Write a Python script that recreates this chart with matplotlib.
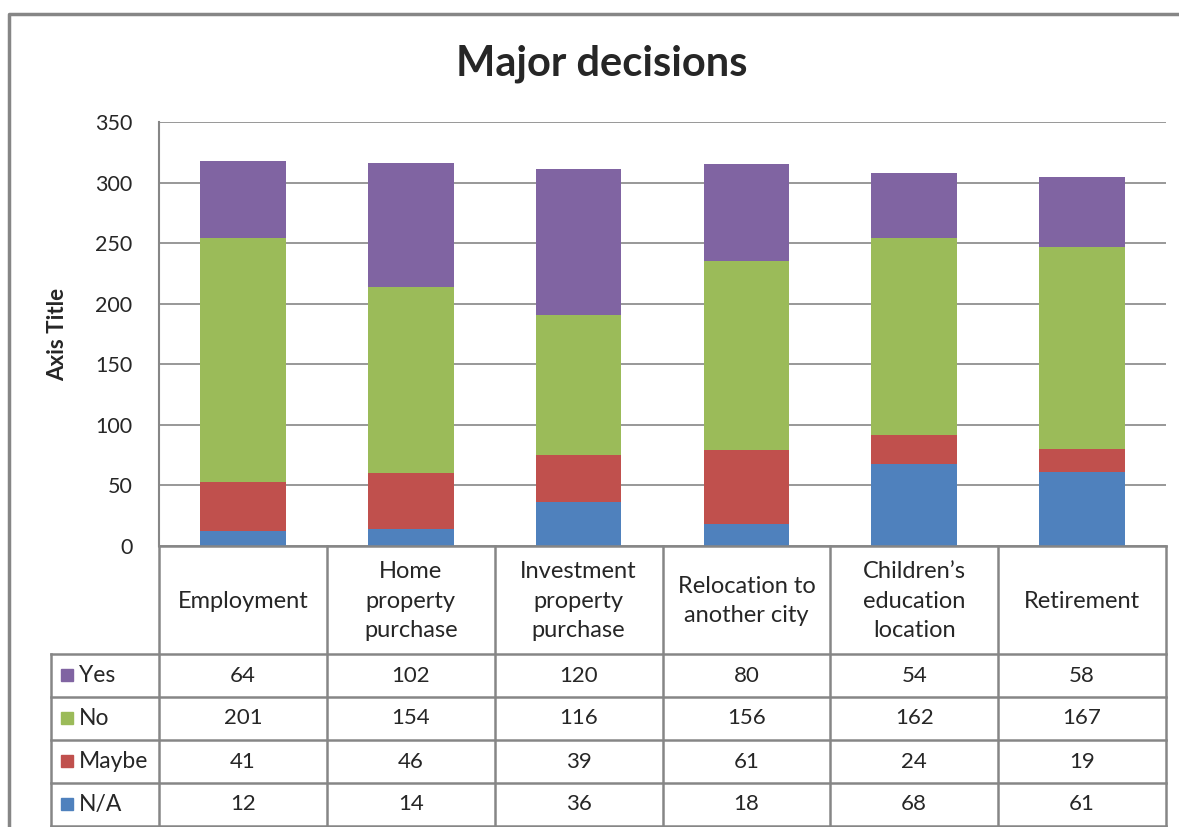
import matplotlib
matplotlib.use('Agg')
import matplotlib.pyplot as plt
import numpy as np

# data
categories = ['Employment', 'Home\nproperty\npurchase', 'Investment\nproperty\npurchase',
              'Relocation to\nanother city', 'Children\u2019s\neducation\nlocation', 'Retirement']
series = ['N/A', 'Maybe', 'No', 'Yes']
na    = [12, 14, 36, 18, 68, 61]
maybe = [41, 46, 39, 61, 24, 19]
no    = [201, 154, 116, 156, 162, 167]
yes   = [64, 102, 120, 80, 54, 58]
colors = ['#4F81BD', '#C0504D', '#9BBB59', '#8064A2']
yticks = [0, 50, 100, 150, 200, 250, 300, 350]

plt.rcParams['font.family'] = ['Lato', 'DejaVu Sans']
txt = '#262626'
line = '#868686'

W, H = 1179, 827
fig = plt.figure(figsize=(W/100, H/100), dpi=100)

def fr(x0, y0, x1, y1):
    # pixel box -> figure fraction
    return [x0/W, 1 - y1/H, (x1-x0)/W, (y1-y0)/H]

# outer chart frame
frame = fig.add_axes([0, 0, 1, 1])
frame.set_xlim(0, W)
frame.set_ylim(H, 0)
frame.axis('off')
frame.plot([9, 9, W], [H, 14, 14], color=line, lw=2.5)

left, right, top, bottom = 159, 1166, 122, 546
ax = fig.add_axes(fr(left, top, right, bottom))
x = np.arange(len(categories))
vals = [na, maybe, no, yes]
base = np.zeros(len(categories))
for v, c, s in zip(vals, colors, series):
    ax.bar(x, v, 0.51, bottom=base, color=c, label=s, zorder=3)
    base = base + np.array(v)

ax.set_xlim(-0.5, len(categories) - 0.5)
ax.set_ylim(0, 350)
ax.set_yticks(yticks)
ax.set_xticks([])
ax.grid(axis='y', color=line, lw=1.2, zorder=0)
for sp in ['top', 'right', 'bottom']:
    ax.spines[sp].set_visible(False)
ax.spines['left'].set_color(line)
ax.spines['left'].set_linewidth(1.5)
ax.tick_params(axis='y', length=0, pad=19, labelsize=15.5, labelcolor=txt)
fig.text(58/W, 1 - 334/H, 'Axis Title', fontsize=16, fontweight='bold', color=txt,
         rotation=90, ha='center', va='center')
fig.text(602/W, 1 - 64/H, 'Major decisions', fontsize=30, fontweight='bold',
         color=txt, ha='center', va='center')

# data table
tab = fig.add_axes([0, 0, 1, 1])
tab.set_xlim(0, W)
tab.set_ylim(H, 0)
tab.axis('off')
colw = (right - left) / len(categories)
legx = 51
rows = [654, 697, 740, 783, 826]
lw = 1.8
tab.plot([left, right], [bottom, bottom], color=line, lw=lw)
for i in range(len(categories) + 1):
    xc = left + i * colw
    tab.plot([xc, xc], [bottom, rows[-1]], color=line, lw=lw)
tab.plot([legx, legx], [rows[0], rows[-1]], color=line, lw=lw)
for r in rows:
    tab.plot([legx, right], [r, r], color=line, lw=lw)

for i, cat in enumerate(categories):
    tab.text(left + (i + 0.5) * colw, (bottom + rows[0]) / 2 + 1, cat, ha='center',
             va='center', fontsize=17, color=txt, linespacing=1.5)

order = list(zip(series, vals, colors))[::-1]
for j, (s, v, c) in enumerate(order):
    yc = (rows[j] + rows[j + 1]) / 2
    tab.add_patch(plt.Rectangle((61, yc - 7), 12, 12, color=c))
    tab.text(79, yc, s, ha='left', va='center', fontsize=16.5, color=txt)
    for i, val in enumerate(v):
        tab.text(left + (i + 0.5) * colw, yc, str(val), ha='center', va='center',
                 fontsize=16, color=txt)

fig.savefig('out.png', dpi=100)
